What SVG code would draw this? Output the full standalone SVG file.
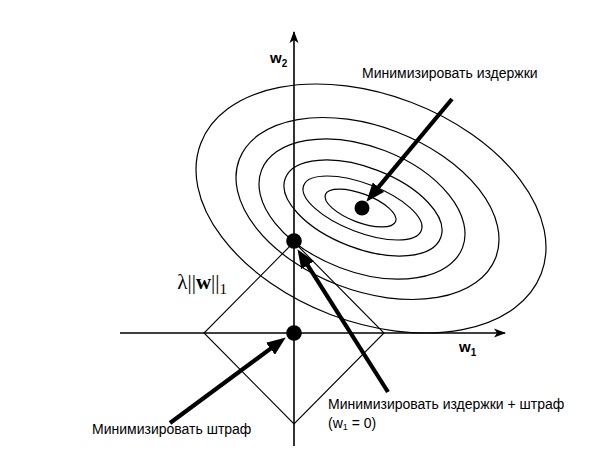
<svg xmlns="http://www.w3.org/2000/svg" width="596" height="469" viewBox="0 0 596 469">
  <style>
    .axis { stroke: #000; stroke-width: 1.6; fill: none; }
    .contour { stroke: #000; stroke-width: 1.2; fill: none; }
    .diamond { stroke: #000; stroke-width: 1.1; fill: none; }
    .pointer { stroke: #000; stroke-width: 4.2; fill: none; }
    .dot { fill: #000; }
    .lbl { font-family: "Liberation Sans", Arial, sans-serif; font-size: 14px; fill: #000; }
    .ax { font-family: "Liberation Sans", Arial, sans-serif; font-size: 15px; font-weight: bold; fill: #000; }
    .norm { font-family: "Liberation Serif", "Times New Roman", serif; font-size: 21px; fill: #000; }
  </style>
  <defs>
    <marker id="axhead" markerUnits="userSpaceOnUse" markerWidth="12" markerHeight="10" viewBox="0 0 12 10" refX="11" refY="5" orient="auto">
      <path d="M0,0.5 L12,5 L0,9.5 L3,5 z" fill="#000"/>
    </marker>
    <marker id="bighead" markerUnits="userSpaceOnUse" markerWidth="19" markerHeight="15" viewBox="0 0 19 15" refX="1" refY="7.5" orient="auto">
      <path d="M0,0 L19,7.5 L0,15 z" fill="#000"/>
    </marker>
  </defs>

  <g id="axes">
    <line class="axis" x1="120" y1="333" x2="505" y2="333" marker-end="url(#axhead)"/>
    <line class="axis" x1="294" y1="446" x2="294" y2="32" marker-end="url(#axhead)"/>
  </g>

  <g id="cost-contours">
    <ellipse class="contour" cx="0" cy="0" rx="182.3" ry="113.5" transform="translate(371 208.5) rotate(21)"/>
    <ellipse class="contour" cx="0" cy="0" rx="137.3" ry="82" transform="translate(367.5 208.5) rotate(21)"/>
    <ellipse class="contour" cx="0" cy="0" rx="107.7" ry="62.6" transform="translate(362 209) rotate(21)"/>
    <ellipse class="contour" cx="0" cy="0" rx="83.2" ry="40.3" transform="translate(363 208) rotate(21)"/>
    <ellipse class="contour" cx="0" cy="0" rx="63" ry="24.3" transform="translate(362.5 208) rotate(21)"/>
    <ellipse class="contour" cx="0" cy="0" rx="37.6" ry="14.3" transform="translate(360.5 208) rotate(21)"/>
  </g>

  <g id="penalty-diamond">
    <polygon class="diamond" points="294,242 384,333 294,424 204,333"/>
  </g>

  <g id="point-cost-min">
    <circle class="dot" cx="362" cy="208" r="7.5"/>
  </g>
  <g id="point-combined-min">
    <circle class="dot" cx="294" cy="241" r="7.8"/>
  </g>
  <g id="point-penalty-min">
    <circle class="dot" cx="294" cy="333" r="7.8"/>
  </g>

  <g id="connectors">
    <line class="pointer" x1="452" y1="99" x2="377.9" y2="187.9" marker-end="url(#bighead)"/>
    <line class="pointer" x1="388" y1="392" x2="307.1" y2="264.4" marker-end="url(#bighead)"/>
    <line class="pointer" x1="170" y1="423" x2="271.3" y2="348.1" marker-end="url(#bighead)"/>
  </g>

  <g id="label-w2">
    <text class="ax" x="270" y="63">w<tspan font-size="10" dy="4">2</tspan></text>
  </g>
  <g id="label-w1">
    <text class="ax" x="459" y="352">w<tspan font-size="10" dy="4">1</tspan></text>
  </g>
  <g id="label-norm">
    <text class="norm" x="227" y="289" text-anchor="end">λ||<tspan font-weight="bold">w</tspan>||<tspan font-size="15" dy="5">1</tspan></text>
  </g>
  <g id="label-cost">
    <text class="lbl" x="362" y="78">Минимизировать издержки</text>
  </g>
  <g id="label-penalty">
    <text class="lbl" x="92" y="434">Минимизировать штраф</text>
  </g>
  <g id="label-combined">
    <text class="lbl" x="328" y="409">Минимизировать издержки + штраф</text>
    <text class="lbl" x="328" y="428">(w<tspan font-size="9" dy="2">1</tspan><tspan dy="-2"> = 0)</tspan></text>
  </g>
</svg>
